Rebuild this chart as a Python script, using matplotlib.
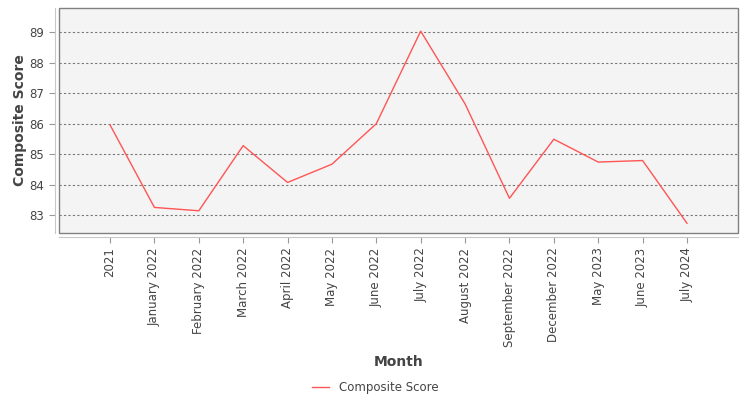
import matplotlib
matplotlib.use("Agg")
import matplotlib.pyplot as plt

meses = ["2021", "January 2022", "February 2022", "March 2022", "April 2022",
         "May 2022", "June 2022", "July 2022", "August 2022", "September 2022",
         "December 2022", "May 2023", "June 2023", "July 2024"]
puntaje = [85.96, 83.25, 83.14, 85.28, 84.07, 84.67, 86.0, 89.04, 86.65,
           83.55, 85.49, 84.74, 84.79, 82.73]
ticks_y = [83, 84, 85, 86, 87, 88, 89]

plt.rcParams["font.family"] = "DejaVu Sans"

fig = plt.figure(figsize=(7.5, 4), dpi=100)
ax = fig.add_axes([59 / 750, 1 - 233 / 400, (738 - 59) / 750, (233 - 8) / 400])

x = list(range(len(meses)))
ax.plot(x, puntaje, color="#ff5555", linewidth=1, label="Composite Score")

ax.set_xlim(-1.15, len(meses) - 1 + 1.15)
ax.set_ylim(82.41, 89.8)

ax.set_facecolor("#f4f4f4")
ax.grid(axis="y", color="#777777", linestyle=(0, (2, 2)), linewidth=0.8)
ax.set_axisbelow(True)

for lado in ["top", "right"]:
    ax.spines[lado].set_visible(False)
for lado in ["left", "bottom"]:
    ax.spines[lado].set_position(("outward", 3))
    ax.spines[lado].set_color("#c8c8c8")
ax.add_patch(plt.Rectangle((0, 0), 1, 1, transform=ax.transAxes, fill=False,
                           edgecolor="#808080", linewidth=1, clip_on=False))
ax.tick_params(axis="both", color="#999999", length=4, width=0.8,
               labelsize=8.5, labelcolor="#444444")

ax.set_xticks(x)
ax.set_xticklabels(meses)
ax.set_yticks(ticks_y)
ax.set_yticklabels([str(v) for v in ticks_y])
ax.tick_params(axis="x", labelrotation=90)

ax.set_ylabel("Composite Score", fontsize=10, fontweight="bold", color="#444444",
              labelpad=2)
ax.set_xlabel("Month", fontsize=10, fontweight="bold", color="#444444",
              labelpad=6)

fig.legend(loc="lower center", bbox_to_anchor=(0.5, -0.012), frameon=False,
           fontsize=8.5, handlelength=1.5, labelcolor="#444444")

fig.savefig("out.png", dpi=100)
